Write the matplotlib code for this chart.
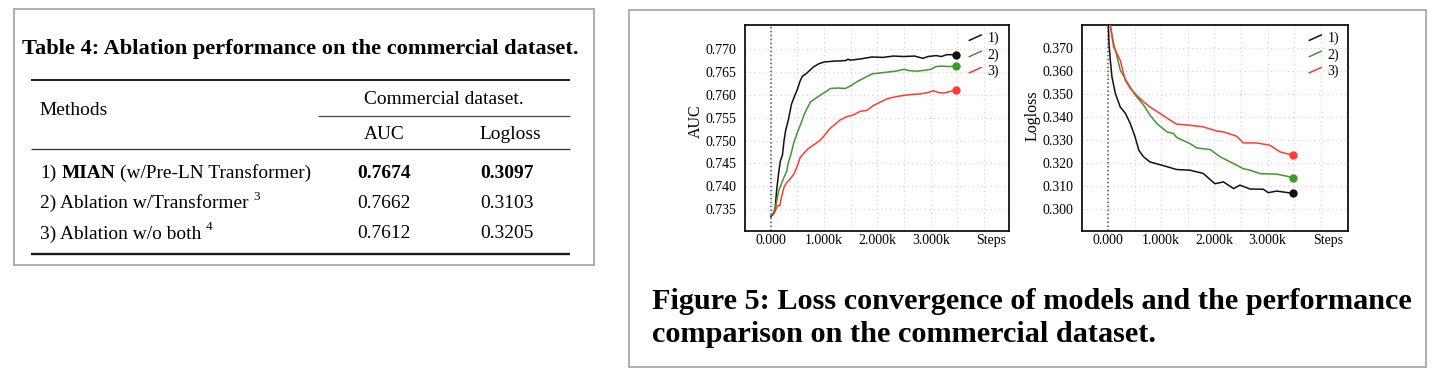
import matplotlib
matplotlib.use('Agg')
import matplotlib.pyplot as plt
from matplotlib.lines import Line2D
from matplotlib.legend_handler import HandlerBase
from matplotlib.patches import Rectangle
from matplotlib.ticker import MultipleLocator, FixedLocator, FixedFormatter

# ---------------- data ----------------
table_title = "Table 4: Ablation performance on the commercial dataset."
table_group = "Commercial dataset."
table_cols = ["AUC", "Logloss"]
table_methods = ["1) MIAN (w/Pre-LN Transformer)", "2) Ablation w/Transformer", "3) Ablation w/o both"]
table_notes = ["", "3", "4"]
table_auc = ["0.7674", "0.7662", "0.7612"]
table_logloss = ["0.3097", "0.3103", "0.3205"]

caption_lines = ["Figure 5: Loss convergence of models and the performance",
                 "comparison on the commercial dataset."]

series_labels = ["1)", "2)", "3)"]
series_colors = ["#111111", "#3d9a2b", "#ff3b30"]

xtick_vals = [0, 1, 2, 3]
xtick_labels = ["0.000", "1.000k", "2.000k", "3.000k"]
auc_ticks = [0.735, 0.740, 0.745, 0.750, 0.755, 0.760, 0.765, 0.770]
logloss_ticks = [0.300, 0.310, 0.320, 0.330, 0.340, 0.350, 0.360, 0.370]

# AUC curves (steps in thousands)
auc1_x = [0.00, 0.05, 0.08, 0.11, 0.15, 0.18, 0.22, 0.25, 0.28, 0.33, 0.39, 0.45, 0.50, 0.55, 0.59,
          0.68, 0.80, 0.90, 1.00, 1.20, 1.40, 1.45, 1.50, 1.70, 1.90, 2.10, 2.30, 2.50, 2.70, 2.85,
          2.95, 3.10, 3.20, 3.30, 3.47]
auc1_y = [0.7333, 0.7340, 0.7345, 0.7390, 0.7430, 0.7455, 0.7468, 0.7500, 0.7522, 0.7545, 0.7580,
          0.7598, 0.7612, 0.7630, 0.7640, 0.7648, 0.7661, 0.7668, 0.7672, 0.7674, 0.7675, 0.7678,
          0.7676, 0.7679, 0.7683, 0.7682, 0.7685, 0.7684, 0.7685, 0.7680, 0.7684, 0.7686, 0.7684,
          0.7688, 0.7688]
auc2_x = [0.00, 0.05, 0.10, 0.15, 0.20, 0.25, 0.30, 0.33, 0.38, 0.43, 0.50, 0.56, 0.62, 0.68, 0.75,
          0.85, 0.95, 1.05, 1.12, 1.25, 1.40, 1.50, 1.62, 1.75, 1.90, 2.05, 2.20, 2.35, 2.50, 2.60,
          2.75, 2.90, 3.00, 3.10, 3.20, 3.35, 3.47]
auc2_y = [0.7335, 0.7342, 0.7360, 0.7390, 0.7405, 0.7420, 0.7432, 0.7452, 0.7470, 0.7494, 0.7518,
          0.7535, 0.7555, 0.7570, 0.7585, 0.7593, 0.7601, 0.7608, 0.7614, 0.7615, 0.7614, 0.7620,
          0.7629, 0.7637, 0.7646, 0.7648, 0.7650, 0.7652, 0.7656, 0.7653, 0.7652, 0.7654, 0.7656,
          0.7662, 0.7663, 0.7662, 0.7663]
auc3_x = [0.05, 0.10, 0.13, 0.17, 0.20, 0.25, 0.30, 0.38, 0.44, 0.50, 0.55, 0.62, 0.70, 0.80, 0.92,
          1.00, 1.10, 1.20, 1.30, 1.42, 1.55, 1.68, 1.80, 1.93, 2.05, 2.20, 2.35, 2.50, 2.65, 2.80,
          2.95, 3.05, 3.15, 3.25, 3.35, 3.47]
auc3_y = [0.7338, 0.7350, 0.7358, 0.7357, 0.7375, 0.7398, 0.7408, 0.7418, 0.7428, 0.7445, 0.7462,
          0.7472, 0.7482, 0.7490, 0.7500, 0.7510, 0.7525, 0.7535, 0.7545, 0.7552, 0.7556, 0.7564,
          0.7566, 0.7577, 0.7584, 0.7592, 0.7596, 0.7599, 0.7601, 0.7602, 0.7605, 0.7609, 0.7605,
          0.7604, 0.7607, 0.7611]

# Logloss curves
ll1_x = [0.00, 0.02, 0.044, 0.075, 0.14, 0.23, 0.33, 0.42, 0.51, 0.58, 0.67, 0.79, 1.01, 1.29, 1.54,
         1.79, 2.01, 2.17, 2.36, 2.48, 2.67, 2.92, 3.01, 3.17, 3.48]
ll1_y = [0.3850, 0.3720, 0.3650, 0.3576, 0.3503, 0.3445, 0.3416, 0.3372, 0.3314, 0.3256, 0.3227,
         0.3205, 0.3191, 0.3172, 0.3169, 0.3155, 0.3110, 0.3118, 0.3089, 0.3104, 0.3087, 0.3086,
         0.3071, 0.3078, 0.3068]
ll2_x = [0.02, 0.044, 0.106, 0.156, 0.23, 0.356, 0.51, 0.67, 0.79, 0.92, 1.11, 1.23, 1.29, 1.54, 1.67,
         1.92, 2.11, 2.36, 2.54, 2.67, 2.86, 3.17, 3.48]
ll2_y = [0.3850, 0.3800, 0.3722, 0.3678, 0.3606, 0.3555, 0.3497, 0.3453, 0.3409, 0.3372, 0.3336,
         0.3329, 0.3312, 0.3285, 0.3266, 0.3259, 0.3227, 0.3198, 0.3176, 0.3169, 0.3154, 0.3152,
         0.3137]
ll3_x = [0.03, 0.044, 0.106, 0.23, 0.325, 0.42, 0.54, 0.67, 0.79, 0.98, 1.17, 1.29, 1.54, 1.79, 2.04,
         2.17, 2.42, 2.54, 2.79, 3.04, 3.23, 3.48]
ll3_y = [0.3850, 0.3800, 0.3707, 0.3649, 0.3562, 0.3525, 0.3496, 0.3467, 0.3445, 0.3416, 0.3387,
         0.3370, 0.3365, 0.3358, 0.3340, 0.3336, 0.3317, 0.3288, 0.3288, 0.3278, 0.3249, 0.3234]

# ---------------- figure ----------------
W, H = 1435, 374
fig = plt.figure(figsize=(W / 100, H / 100), dpi=100)
fig.patch.set_facecolor('white')
renderer = fig.canvas.get_renderer()
SERIF = 'Liberation Serif'


def fx(x):
    return x / W


def fy(y):
    return 1 - y / H


def text_w(s, size, weight='normal'):
    t = fig.text(0, 0, s, fontsize=size, family=SERIF, weight=weight)
    w = t.get_window_extent(renderer).width
    t.remove()
    return w


def fit_size(s, width, weight='normal'):
    size = 12 * width / text_w(s, 12, weight)
    for _ in range(2):
        size = size * width / text_w(s, size, weight)
    return size


def put(x, y, s, size, weight='normal', ha='left', va='baseline', **kw):
    return fig.text(fx(x), fy(y), s, fontsize=size, family=SERIF, weight=weight,
                    ha=ha, va=va, **kw)


def hline(x0, x1, y, lw, color='#1a1a1a'):
    fig.add_artist(Line2D([fx(x0), fx(x1)], [fy(y), fy(y)], color=color, lw=lw,
                          solid_capstyle='butt'))


# panel borders
for (x0, y0, x1, y1) in [(13.5, 9.5, 593.5, 264.5), (629, 9.5, 1426, 366.5)]:
    fig.add_artist(Rectangle((fx(x0), fy(y1)), fx(x1) - fx(x0), fy(y0) - fy(y1),
                             transform=fig.transFigure, fill=False,
                             edgecolor='#a8a8a8', lw=1.3))

# ---------------- table ----------------
s_title = fit_size(table_title, 556, 'bold')
put(22, 54, table_title, s_title, 'bold')

s_body = 0.5 * (fit_size(table_methods[1], 208) + fit_size(table_methods[2], 161))
sp = text_w("x x", s_body) - text_w("xx", s_body)

hline(31, 570, 80, 1.4)
put(444, 104, table_group, s_body, ha='center')
put(40, 115, "Methods", s_body)
hline(318, 570, 115.5, 0.9, '#444444')
put(384, 139, table_cols[0], s_body, ha='center')
put(510, 139, table_cols[1], s_body, ha='center')
hline(31, 570, 149, 0.9, '#333333')

row_base = [177.5, 208, 238.5]
for i, name in enumerate(table_methods):
    y = row_base[i]
    wt = 'bold' if i == 0 else 'normal'
    if i == 0:
        pre, rest = name.split("MIAN")
        x = 40
        put(x, y, pre.strip(), s_body)
        x += text_w(pre.strip(), s_body) + sp
        put(x, y, "MIAN", s_body, 'bold')
        x += text_w("MIAN", s_body, 'bold') + sp
        put(x, y, rest.strip(), s_body)
    else:
        put(40, y, name, s_body)
        if table_notes[i]:
            xe = 40 + text_w(name, s_body) + sp * 0.9
            put(xe, y - 8, table_notes[i], s_body * 0.68)
    put(384, y, table_auc[i], s_body, wt, ha='center')
    put(507, y, table_logloss[i], s_body, wt, ha='center')
hline(31, 570, 253.5, 1.7)

# ---------------- caption ----------------
s_cap = fit_size(caption_lines[0], 760, 'bold')
put(652.5, 309, caption_lines[0], s_cap, 'bold')
put(652.5, 342, caption_lines[1], s_cap, 'bold')


# ---------------- charts ----------------
class SlantHandler(HandlerBase):
    def create_artists(self, legend, orig_handle, xdescent, ydescent, width, height,
                       fontsize, trans):
        x0, x1 = -xdescent, -xdescent + width
        y0, y1 = -ydescent + 0.2 * height, -ydescent + 0.75 * height
        ln = Line2D([x0, x1], [y0, y1], color=orig_handle.get_color(),
                    lw=orig_handle.get_linewidth())
        ln.set_transform(trans)
        return [ln]


def make_axes(x0, x1, y0, y1):
    return fig.add_axes([fx(x0), fy(y1), (x1 - x0) / W, (y1 - y0) / H])


def style_axes(ax, xlim, ylim, yticks, yfmt, steps_x, legend_anchor):
    ax.set_xlim(*xlim)
    ax.set_ylim(*ylim)
    ax.set_axisbelow(True)
    ax.xaxis.set_major_locator(FixedLocator(xtick_vals))
    ax.xaxis.set_major_formatter(FixedFormatter(xtick_labels))
    ax.xaxis.set_minor_locator(MultipleLocator(0.5))
    ax.yaxis.set_major_locator(FixedLocator(yticks))
    ax.yaxis.set_major_formatter(FixedFormatter([yfmt.format(v) for v in yticks]))
    ax.tick_params(axis='both', which='both', length=0, labelsize=10)
    ax.tick_params(axis='y', pad=6)
    ax.tick_params(axis='x', pad=2.5)
    for lab in ax.get_xticklabels() + ax.get_yticklabels():
        lab.set_family(SERIF)
    ax.grid(True, which='major', color='#d4d4d4', ls=(0, (1, 2.5)), lw=0.9)
    ax.xaxis.grid(True, which='minor', color='#d4d4d4', ls=(0, (1, 2.5)), lw=0.9)
    ax.axvline(0, color='#555555', ls=(0, (1, 1.6)), lw=1.1, zorder=1.5)
    for sp_ in ax.spines.values():
        sp_.set_linewidth(1.3)
        sp_.set_color('#111111')
    ax.annotate("Steps", xy=(steps_x, 0), xycoords='axes fraction', xytext=(0, -2.5),
                textcoords='offset points', ha='center', va='top', fontsize=10,
                family=SERIF)
    leg = ax.legend(loc='upper right', bbox_to_anchor=legend_anchor, frameon=False,
                    prop={'family': SERIF, 'size': 10},
                    handler_map={Line2D: SlantHandler()}, handlelength=0.85,
                    handletextpad=0.45, labelspacing=0.2, borderpad=0, borderaxespad=0)
    return leg


ax1 = make_axes(745, 1009, 25, 231)
for xs, ys, c, lab in zip([auc1_x, auc2_x, auc3_x], [auc1_y, auc2_y, auc3_y],
                          series_colors, series_labels):
    ax1.plot(xs, ys, color=c, lw=1.1, label=lab, zorder=3)
    ax1.plot(xs[-1], ys[-1], 'o', color=c, ms=5, zorder=4)
style_axes(ax1, (-0.482, 4.468), (0.7302, 0.7753), auc_ticks, "{:.3f}", 0.934,
           ((999 - 745) / 264, (231 - 32) / 206))
fig.text(fx(696), fy(121), "AUC", rotation=90, ha='center', va='center',
         fontsize=11.5, family=SERIF)

ax2 = make_axes(1082, 1348, 25, 231)
for xs, ys, c, lab in zip([ll1_x, ll2_x, ll3_x], [ll1_y, ll2_y, ll3_y],
                          series_colors, series_labels):
    ax2.plot(xs, ys, color=c, lw=1.1, label=lab, zorder=3)
    ax2.plot(xs[-1], ys[-1], 'o', color=c, ms=5, zorder=4)
style_axes(ax2, (-0.4875, 4.51), (0.2904, 0.3802), logloss_ticks, "{:.3f}", 0.925,
           ((1339 - 1082) / 266, (231 - 32) / 206))
fig.text(fx(1033), fy(116), "Logloss", rotation=90, ha='center', va='center',
         fontsize=11.5, family=SERIF)

fig.savefig("out.png", dpi=100, facecolor='white')
